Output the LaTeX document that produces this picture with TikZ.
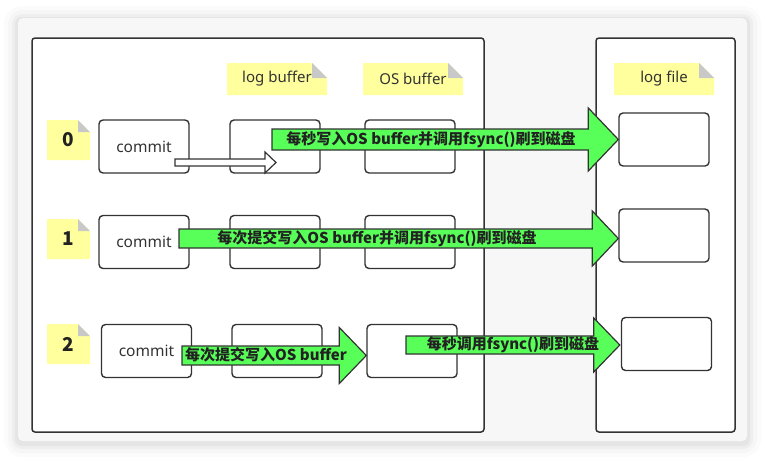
\documentclass[tikz,border=0pt]{standalone}
\usepackage{fontspec}
\setmainfont{Noto Sans}
\newfontfamily\cjk{Noto Sans CJK SC}
\usetikzlibrary{calc}

\definecolor{panelgray}{RGB}{247,247,247}
\definecolor{linegray}{RGB}{51,51,51}
\definecolor{textgray}{RGB}{34,34,34}
\definecolor{noteyellow}{RGB}{255,255,158}
\definecolor{noteear}{RGB}{200,200,200}
\definecolor{arrowgreen}{RGB}{88,255,88}

% #1 fill, #2 start, #3 tip, #4 shaft half, #5 head half, #6 head length
\newcommand{\fatarrow}[6][arrowgreen]{%
  \filldraw[fill=#1,draw=linegray,line width=1.2pt,line join=miter]
    ($(#2 |- #3)+(0,-#4)$) -- ($(#3)+(-#6,-#4)$) -- ($(#3)+(-#6,-#5)$) -- (#3)
    -- ($(#3)+(-#6,#5)$) -- ($(#3)+(-#6,#4)$) -- ($(#2 |- #3)+(0,#4)$) -- cycle;}

\begin{document}
\begin{tikzpicture}[x=1pt,y=-1pt,
  frame/.style={draw=linegray,line width=1.5pt,rounded corners=3pt,fill=white,inner sep=0pt},
  box/.style={draw=linegray,line width=1.4pt,rounded corners=4pt,fill=white,inner sep=0pt,
    minimum width=90pt,minimum height=53pt,text=linegray,font=\fontsize{15.5}{18}\selectfont},
  note/.style={inner sep=0pt,minimum width=100pt,minimum height=32pt,text=linegray,
    font=\fontsize{15}{18}\selectfont,
    path picture={
      \fill[noteyellow] (path picture bounding box.south west) -- (path picture bounding box.north west)
        -- ([xshift=-#1]path picture bounding box.north east) -- ([yshift=-#1]path picture bounding box.north east)
        -- (path picture bounding box.south east) -- cycle;
      \fill[noteear] ([xshift=-#1]path picture bounding box.north east) -- ([yshift=-#1]path picture bounding box.north east)
        -- ([xshift=-#1,yshift=-#1]path picture bounding box.north east) -- cycle;}},
  note/.default=15pt,
  numnote/.style={note=12pt,minimum width=43pt,minimum height=40pt,font=\cjk\fontsize{19}{21}\selectfont\bfseries,text=textgray},
  flowtext/.style={inner sep=0pt,text=textgray,font=\cjk\fontsize{15}{18}\selectfont\bfseries}]
\useasboundingbox (0,0) rectangle (765,461);
\foreach \s/\o in {14/0.015,10/0.02,6/0.03,3/0.04}
  \fill[black,opacity=\o,rounded corners={\s+4}] ({18-\s},{20-\s}) rectangle ({747+\s},{443+\s});
\fill[panelgray,rounded corners=5pt] (18,18) rectangle (747,441);

\node[frame,minimum width=452pt,minimum height=394pt] (leftframe) at (258,235) {};
\node[frame,minimum width=139pt,minimum height=394pt] (rightframe) at (665.5,235) {};

\node[note] (lbnote) at (277,79) {log buffer};
\node[note] (obnote) at (413,79) {OS buffer};
\node[note] (lfnote) at (664,79) {log file};
\node[numnote] (n0) at (68.5,140) {0};
\node[numnote] (n1) at (68.5,239) {1};
\node[numnote] (n2) at (68.5,344) {2};

\node[box] (c0) at (144,146.5) {commit};
\node[box] (b0) at (275,146.5) {};
\node[box] (o0) at (410,146.5) {};
\node[box] (f0) at (664,139.5) {};
\node[box] (c1) at (144,242) {commit};
\node[box] (b1) at (275,242) {};
\node[box] (o1) at (410,242) {};
\node[box] (f1) at (664,235.5) {};
\node[box] (c2) at (146.5,351) {commit};
\node[box] (b2) at (277,351) {};
\node[box] (o2) at (412,351) {};
\node[box] (f2) at (666.5,344) {};

\coordinate (w0s) at (175,162.5);
\coordinate (w0e) at (276,162.5);
\fatarrow[white]{w0s}{w0e}{3.5}{10.5}{11}

\coordinate (a0s) at (272,139.5);
\fatarrow{a0s}{f0.west}{10.5}{31.5}{30}
\node[flowtext] (t0) at (431,139.5) {每秒写入OS buffer并调用fsync()刷到磁盘};

\coordinate (a1s) at (179,238.5);
\coordinate (a1e) at ([yshift=-3pt]f1.west);
\fatarrow{a1s}{a1e}{9.5}{27.5}{26}
\node[flowtext] (t1) at (377,238.5) {每次提交写入OS buffer并调用fsync()刷到磁盘};

\coordinate (a2s) at (182,355);
\coordinate (a2e) at ([yshift=-4.5pt]o2.west);
\fatarrow{a2s}{a2e}{9.5}{28}{27}
\node[flowtext] (t2) at (266,354.5) {每次提交写入OS buffer};

\coordinate (a3s) at (406,345);
\coordinate (a3e) at ([xshift=-1pt,yshift=-1pt]f2.west);
\fatarrow{a3s}{a3e}{9}{27}{26}
\node[flowtext] (t3) at (513,345) {每秒调用fsync()刷到磁盘};
\end{tikzpicture}
\end{document}
